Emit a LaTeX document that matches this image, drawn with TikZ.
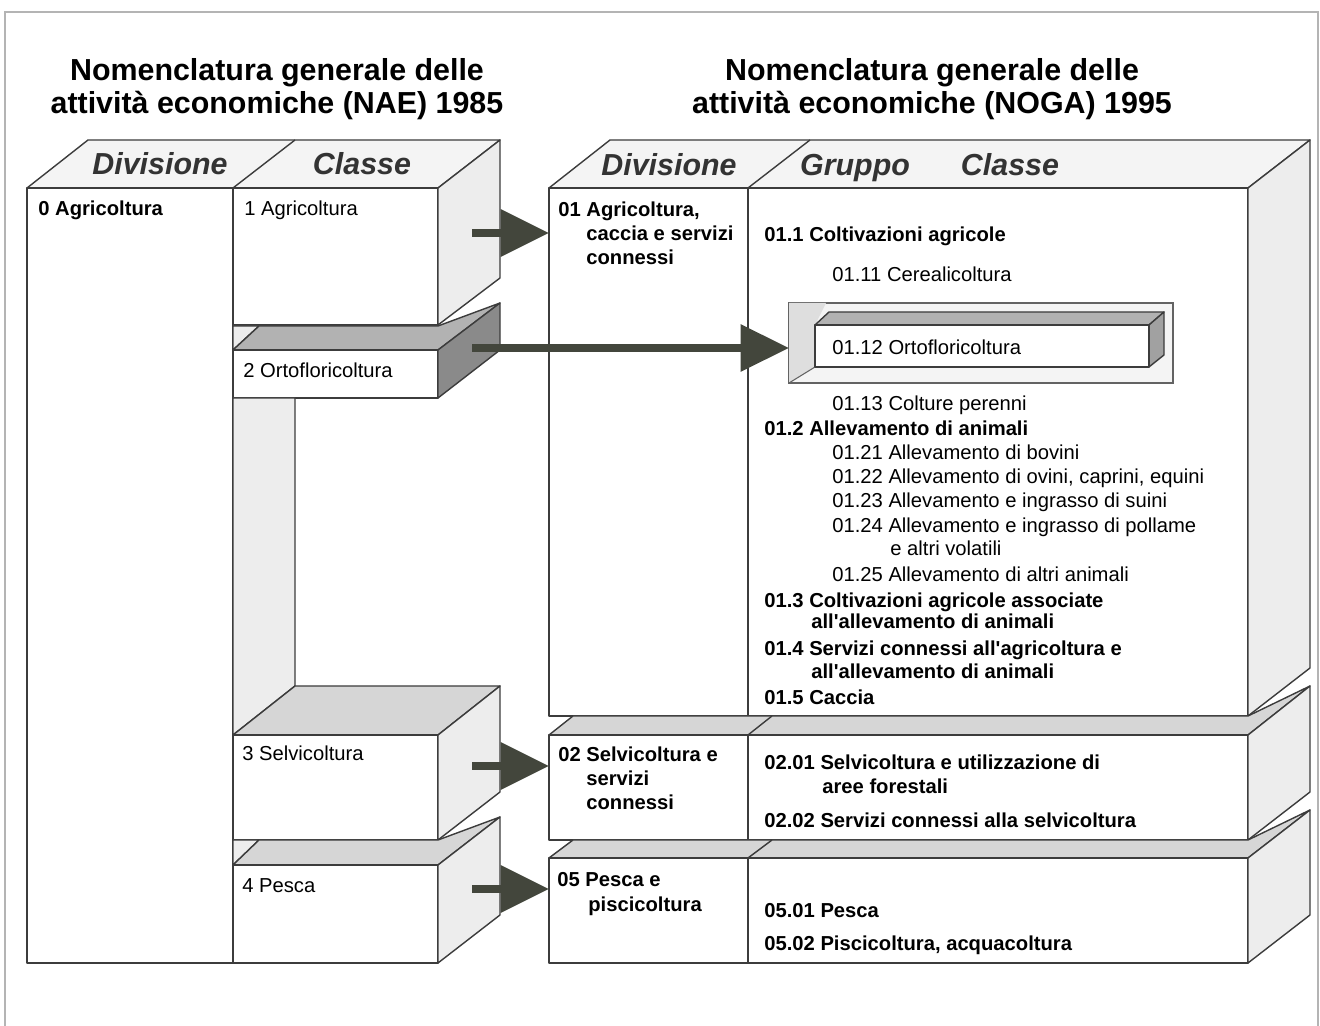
\documentclass[tikz,border=0pt]{standalone}
\usepackage{fontspec}
\setmainfont{Liberation Sans}
\usetikzlibrary{arrows.meta}
\definecolor{ln}{HTML}{3C3C3C}
\definecolor{frm}{HTML}{B4B4B4}
\definecolor{sidef}{HTML}{EDEDED}
\definecolor{topf}{HTML}{F4F4F4}
\definecolor{stripm}{HTML}{B2B2B2}
\definecolor{stripl}{HTML}{D6D6D6}
\definecolor{darkf}{HTML}{8A8A8A}
\definecolor{arr}{HTML}{43463C}
\newcommand{\apo}{\textquotesingle}
\begin{document}
\begin{tikzpicture}[x=0.02cm,y=-0.02cm,
  face/.style={draw=ln, line width=0.8pt, line join=round},
  txt/.style={anchor=mid west, inner sep=0pt, yshift=-1.2pt, font=\fontsize{11.5}{13}\selectfont},
  btxt/.style={txt, font=\fontsize{11.5}{13}\selectfont\bfseries},
  title/.style={anchor=base, inner sep=0pt, font=\fontsize{17.3}{20}\selectfont\bfseries},
  colhead/.style={anchor=base, inner sep=0pt, font=\fontsize{17.3}{20}\selectfont\bfseries\itshape, text=black!80},
  bigarrow/.style={draw=arr, line width=4.4pt, -{Triangle[length=27.5pt,width=26pt]}}
]
\useasboundingbox (0,0) rectangle (1320,1026);
% outer frame
\draw[frm, line width=1pt] (5,1026) -- (5,12) -- (1318,12) -- (1318,1026);

% ================= LEFT (NAE) =================
\path[face, fill=topf] (27,188) -- (88,140) -- (500,140) -- (438,188) -- cycle;
\draw[face] (233,188) -- (295,140);
\path[face, fill=white] (27,188) rectangle (233,963);
% box 1
\path[face, fill=white] (233,188) rectangle (438,325);
\path[face, fill=sidef] (438,188) -- (500,140) -- (500,278) -- (438,325) -- cycle;
% box 2
\path[face, fill=sidef] (233,326) -- (259,326) -- (233,350) -- cycle;
\path[face, fill=stripm] (233,350) -- (259,326) -- (438,326) -- (500,303) -- (438,350) -- cycle;
\path[face, fill=white] (233,350) rectangle (438,398);
\path[face, fill=darkf] (438,350) -- (500,303) -- (500,350) -- (438,398) -- cycle;
% inner wall
\path[face, fill=sidef] (233,398) -- (295,398) -- (295,686) -- (233,735) -- cycle;
% box 3
\path[face, fill=stripl] (233,735) -- (295,686) -- (500,686) -- (438,735) -- cycle;
\path[face, fill=white] (233,735) rectangle (438,840);
\path[face, fill=sidef] (438,735) -- (500,686) -- (500,792) -- (438,840) -- cycle;
% box 4
\path[face, fill=sidef] (233,840) -- (259,840) -- (233,865) -- cycle;
\path[face, fill=stripl] (233,865) -- (259,840) -- (438,840) -- (500,817) -- (438,865) -- cycle;
\path[face, fill=white] (233,865) rectangle (438,963);
\path[face, fill=sidef] (438,865) -- (500,817) -- (500,915) -- (438,963) -- cycle;

% ================= RIGHT (NOGA) =================
\path[face, fill=topf] (549,188) -- (610,140) -- (1310,140) -- (1248,188) -- cycle;
\draw[face] (748,188) -- (810,140);
% block 01
\path[face, fill=white] (549,188) rectangle (1248,716);
\draw[face] (748,188) -- (748,716);
\path[face, fill=sidef] (1248,188) -- (1310,140) -- (1310,668) -- (1248,716) -- cycle;
% block 02
\path[face, fill=stripl] (549,735) -- (573,716) -- (1248,716) -- (1310,686) -- (1248,735) -- cycle;
\draw[face] (748,735) -- (772,716);
\path[face, fill=white] (549,735) rectangle (1248,840);
\draw[face] (748,735) -- (748,840);
\path[face, fill=sidef] (1248,735) -- (1310,686) -- (1310,792) -- (1248,840) -- cycle;
% block 05
\path[face, fill=stripl] (549,858) -- (573,840) -- (1248,840) -- (1310,810) -- (1248,858) -- cycle;
\draw[face] (748,858) -- (772,840);
\path[face, fill=white] (549,858) rectangle (1248,963);
\draw[face] (748,858) -- (748,963);
\path[face, fill=sidef] (1248,858) -- (1310,810) -- (1310,915) -- (1248,963) -- cycle;

% recess with 01.12 bar
\path[draw=ln!80, line width=0.7pt, fill=topf] (789,303) rectangle (1173,383);
\path[fill=black!13] (789,303) -- (826,303) -- (815,325) -- (815,367) -- (789,383) -- cycle;
\draw[ln!80, line width=0.6pt] (815,367) -- (789,383);
\path[face, fill=stripm] (815,325) -- (829,312) -- (1164,312) -- (1149,325) -- cycle;
\path[face, fill=darkf!80] (1149,325) -- (1164,312) -- (1164,355) -- (1149,367) -- cycle;
\path[face, fill=white] (815,325) rectangle (1149,367);

% ================= ARROWS =================
\coordinate (a1s) at (472,233); \coordinate (a1t) at (549,233);
\coordinate (a2s) at (472,348); \coordinate (a2t) at (789,348);
\coordinate (a3s) at (472,766); \coordinate (a3t) at (549,766);
\coordinate (a4s) at (472,889); \coordinate (a4t) at (549,889);
\draw[bigarrow] (a1s) -- (a1t);
\draw[bigarrow, line width=4pt] (a2s) -- (a2t);
\draw[bigarrow] (a3s) -- (a3t);
\draw[bigarrow] (a4s) -- (a4t);

% ================= TEXTS =================
\node[title] (h1a) at (277,81) {Nomenclatura generale delle};
\node[title] (h1b) at (277,114) {attività economiche (NAE) 1985};
\node[title] (h2a) at (932,81) {Nomenclatura generale delle};
\node[title] (h2b) at (932,114) {attività economiche (NOGA) 1995};

\node[colhead] (c1) at (160,175) {Divisione};
\node[colhead] (c2) at (362,175) {Classe};
\node[colhead] (c3) at (669,176) {Divisione};
\node[colhead] (c4) at (855,176) {Gruppo};
\node[colhead] (c5) at (1010,176) {Classe};

\node[btxt] (l0) at (38,209) {0 Agricoltura};
\node[txt] (l1) at (244,209) {1 Agricoltura};
\node[txt] (l2) at (243,371) {2 Ortofloricoltura};
\node[txt] (l3) at (242,754) {3 Selvicoltura};
\node[txt] (l4) at (242,886) {4 Pesca};

\node[btxt] (d1a) at (558,210) {01 Agricoltura,};
\node[btxt] (d1b) at (586,234) {caccia e servizi};
\node[btxt] (d1c) at (586,258) {connessi};
\node[btxt] (d2a) at (558,755) {02 Selvicoltura e};
\node[btxt] (d2b) at (586,779) {servizi};
\node[btxt] (d2c) at (586,803) {connessi};
\node[btxt] (d5a) at (557,880) {05 Pesca e};
\node[btxt] (d5b) at (588,905) {piscicoltura};

\node[btxt] (g11) at (764,235) {01.1 Coltivazioni agricole};
\node[txt] (k111) at (832,275) {01.11 Cerealicoltura};
\node[txt] (k112) at (832,348) {01.12 Ortofloricoltura};
\node[txt] (k113) at (832,404) {01.13 Colture perenni};
\node[btxt] (g12) at (764,429) {01.2 Allevamento di animali};
\node[txt] (k121) at (832,453) {01.21 Allevamento di bovini};
\node[txt] (k122) at (832,477) {01.22 Allevamento di ovini, caprini, equini};
\node[txt] (k123) at (832,501) {01.23 Allevamento e ingrasso di suini};
\node[txt] (k124) at (832,526) {01.24 Allevamento e ingrasso di pollame};
\node[txt] (k124b) at (890,549) {e altri volatili};
\node[txt] (k125) at (832,575) {01.25 Allevamento di altri animali};
\node[btxt] (g13) at (764,601) {01.3 Coltivazioni agricole associate};
\node[btxt] (g13b) at (811,622) {all\apo allevamento di animali};
\node[btxt] (g14) at (764,649) {01.4 Servizi connessi all\apo agricoltura e};
\node[btxt] (g14b) at (811,672) {all\apo allevamento di animali};
\node[btxt] (g15) at (764,698) {01.5 Caccia};
\node[btxt] (g21) at (764,763) {02.01 Selvicoltura e utilizzazione di};
\node[btxt] (g21b) at (822,787) {aree forestali};
\node[btxt] (g22) at (764,821) {02.02 Servizi connessi alla selvicoltura};
\node[btxt] (g51) at (764,911) {05.01 Pesca};
\node[btxt] (g52) at (764,944) {05.02 Piscicoltura, acquacoltura};
\end{tikzpicture}
\end{document}
